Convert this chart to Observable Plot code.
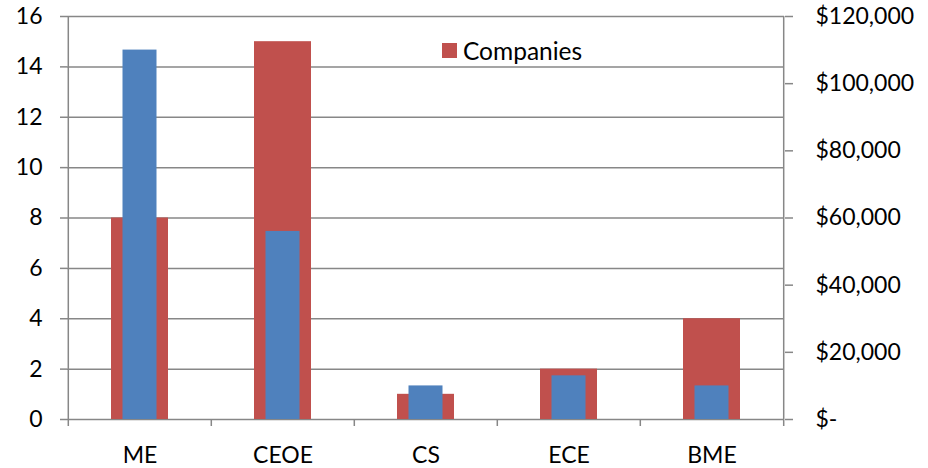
<!DOCTYPE html>
<html>
<head>
<meta charset="utf-8">
<script src="https://cdn.jsdelivr.net/npm/d3@7"></script>
<script src="https://cdn.jsdelivr.net/npm/@observablehq/plot@0.6"></script>
<style>
  body { margin: 0; background: #fff; }
  #wrap { position: relative; width: 928px; height: 468px; font-family: Lato, sans-serif; }
  #legend { position: absolute; left: 442px; top: 36px; display: flex; align-items: center; font-size: 24.5px; color: #000; }
  #legend .sw { width: 15px; height: 15px; background: #C0504D; margin-right: 6px; }
</style>
</head>
<body>
<div id="wrap">
  <div id="legend"><span class="sw"></span><span>Companies</span></div>
</div>
<script>
const categories = ["ME", "CEOE", "CS", "ECE", "BME"];
const companies = [8, 15, 1, 2, 4];
const salaries = [110000, 56000, 10000, 13000, 10000];
const leftTicks = [0, 2, 4, 6, 8, 10, 12, 14, 16];
const rightTicks = [0, 20000, 40000, 60000, 80000, 100000, 120000];

const width = 928, height = 468;
const marginLeft = 67, marginRight = 144, marginTop = 16, marginBottom = 49;
const ratio = 120000 / 16;
const step = (width - marginLeft - marginRight) / categories.length;
const red = "#C0504D", blue = "#4F81BD", grid = "#878787";

const data = categories.map((c, i) => ({cat: c, companies: companies[i], salary: salaries[i]}));
const fmt = d3.format(",");

const chart = Plot.plot({
  width, height, marginLeft, marginRight, marginTop, marginBottom,
  style: {fontFamily: "Lato, sans-serif", fontSize: "23px", color: "#000", background: "#fff"},
  x: {domain: categories, paddingInner: 0.6, paddingOuter: 0.3},
  y: {domain: [0, 16]},
  marks: [
    Plot.gridY(leftTicks, {stroke: grid, strokeOpacity: 1, strokeWidth: 1.5}),
    Plot.barY(data, {x: "cat", y: "companies", fill: red}),
    Plot.barY(data, {x: "cat", y: d => d.salary / ratio, fill: blue, insetLeft: 11.5, insetRight: 11.5}),
    Plot.ruleX([categories[0]], {x: d => d, dx: -step / 2, insetBottom: -7, stroke: grid, strokeWidth: 1.5}),
    Plot.ruleX([categories[categories.length - 1]], {x: d => d, dx: step / 2, insetBottom: -7, stroke: grid, strokeWidth: 1.5}),
    Plot.ruleX(categories.slice(1), {x: d => d, dx: -step / 2, y1: 0, y2: 0, insetBottom: -7, stroke: grid, strokeWidth: 1.5}),
    Plot.axisY({anchor: "left", ticks: leftTicks, tickSize: 7, tickPadding: 18, stroke: grid, strokeWidth: 1.5, label: null, fill: "#000"}),
    Plot.axisY({anchor: "right", ticks: rightTicks.map(v => v / ratio), tickSize: 8, tickPadding: 23, stroke: grid, strokeWidth: 1.5, label: null, fill: "#000",
      tickFormat: d => { const v = Math.round(d * ratio); return v === 0 ? "$-" : "$" + fmt(v); }}),
    Plot.axisX({anchor: "bottom", tickSize: 0, tickPadding: 27, label: null, fill: "#000"})
  ]
});
document.getElementById("wrap").prepend(chart);
</script>
</body>
</html>
